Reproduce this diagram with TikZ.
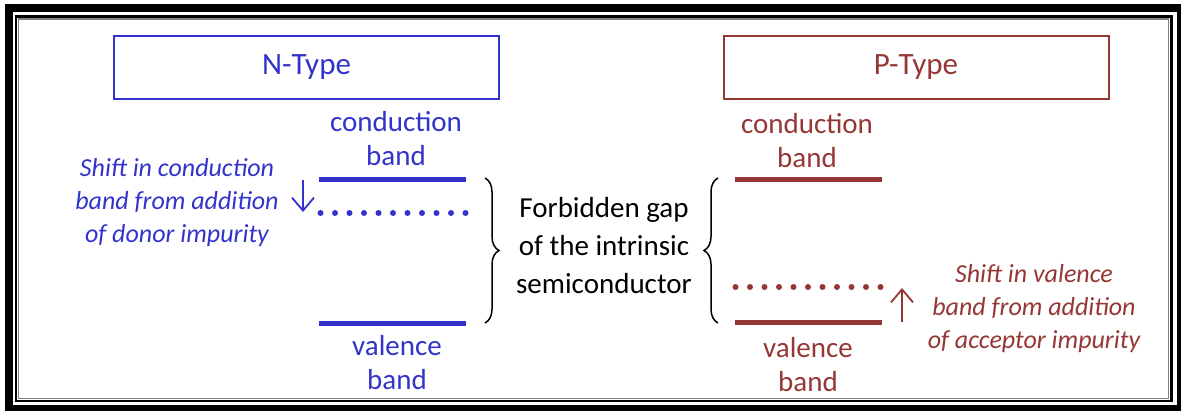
\documentclass[tikz,border=0pt]{standalone}
\usepackage{fontspec}
\setmainfont{Carlito}
\usetikzlibrary{arrows.meta,decorations.pathreplacing}
\definecolor{ncol}{RGB}{51,51,204}
\definecolor{pcol}{RGB}{149,55,53}
\begin{document}
\begin{tikzpicture}[x=1pt,y=-1pt,
  typebox/.style={draw, line width=2, minimum width=385, minimum height=63,
    inner sep=0, font=\fontsize{31}{37}\selectfont},
  level/.style={line width=5},
  lbl/.style={align=center, inner sep=0, font=\fontsize{29}{34}\selectfont},
  note/.style={align=center, inner sep=0, font=\itshape\fontsize{26}{33}\selectfont},
  shiftarrow/.style={line width=1.8, -{Straight Barb[length=13,width=22]}},
  gapbrace/.style={decorate, decoration={brace, amplitude=14}, line width=1.5}]
\useasboundingbox (0,0) rectangle (1181,410);

% double frame
\begin{scope}
  \clip (0,0) rectangle (1181,410);
  \draw[line width=8] (9,8) rectangle (1181,409);
  \draw[line width=2.5] (16,16.5) rectangle (1171.5,401);
  \draw[gray, line width=1.5] (18.5,19) rectangle (1168.5,398.5);
\end{scope}

% headings
\node[typebox, draw=ncol, text=ncol] (ntype) at (306.5,67.5) {N-Type};
\node[typebox, draw=pcol, text=pcol] (ptype) at (916,67.5) {P-Type};

% N-type bands
\coordinate (nc1) at (319,179);
\coordinate (nc2) at (466,179);
\coordinate (nv1) at (319,323);
\coordinate (nv2) at (466,323);
\draw[level, ncol] (nc1) -- (nc2);
\draw[level, ncol] (nv1) -- (nv2);
\foreach \i in {0,...,10} \fill[ncol] (320.5+14.5*\i,213) circle (3);
\node[lbl, text=ncol] (ncb) at (396,139) {conduction\\band};
\node[lbl, text=ncol] (nvb) at (397,363) {valence\\band};
\node[note, text=ncol] (nnote) at (177,203) {Shift in conduction\\band from addition\\of donor impurity};
\coordinate (nat) at (303,180);
\coordinate (nah) at (303,212);
\draw[shiftarrow, ncol] (nat) -- (nah);

% forbidden gap
\node[lbl, font=\fontsize{29}{38}\selectfont] (gap) at (604,246) {Forbidden gap\\of the intrinsic\\semiconductor};
\coordinate (lb1) at (485,178);
\coordinate (lb2) at (485,323);
\coordinate (rb1) at (718,178);
\coordinate (rb2) at (718,323);
\draw[gapbrace] (lb1) -- (lb2);
\draw[gapbrace] (rb2) -- (rb1);

% P-type bands
\coordinate (pc1) at (735,179);
\coordinate (pc2) at (882,179);
\coordinate (pv1) at (735,322);
\coordinate (pv2) at (882,322);
\draw[level, pcol] (pc1) -- (pc2);
\draw[level, pcol] (pv1) -- (pv2);
\foreach \i in {0,...,10} \fill[pcol] (735.5+14.5*\i,287) circle (3);
\node[lbl, text=pcol] (pcb) at (807,141) {conduction\\band};
\node[lbl, text=pcol] (pvb) at (808,365) {valence\\band};
\node[note, text=pcol] (pnote) at (1034,309) {Shift in valence\\band from addition\\of acceptor impurity};
\coordinate (pat) at (902,322);
\coordinate (pah) at (902,288);
\draw[shiftarrow, pcol] (pat) -- (pah);
\end{tikzpicture}
\end{document}
